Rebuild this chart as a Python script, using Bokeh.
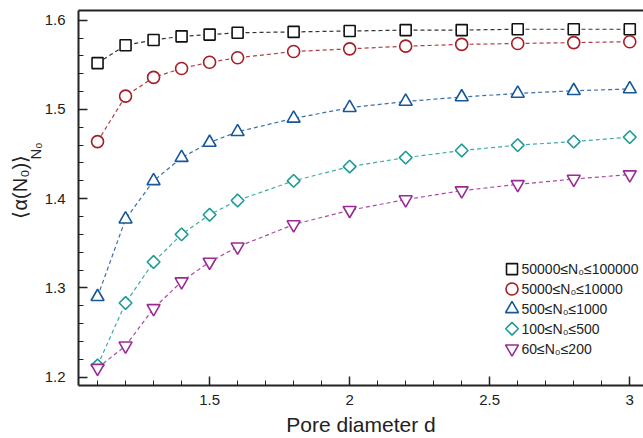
import math
from bokeh.plotting import figure
from bokeh.models import (Range1d, FixedTicker, LinearAxis, Title, ColumnDataSource)
from bokeh.core.properties import value
from bokeh.embed import file_html
from bokeh.resources import INLINE

# ---- data ----
d = [1.1, 1.2, 1.3, 1.4, 1.5, 1.6, 1.8, 2.0, 2.2, 2.4, 2.6, 2.8, 3.0]
alpha_50000_100000 = [1.552, 1.572, 1.578, 1.582, 1.584, 1.586, 1.587, 1.588, 1.589, 1.589, 1.590, 1.590, 1.590]
alpha_5000_10000 = [1.464, 1.515, 1.536, 1.546, 1.553, 1.558, 1.565, 1.568, 1.571, 1.573, 1.574, 1.575, 1.576]
alpha_500_1000 = [1.290, 1.377, 1.420, 1.446, 1.463, 1.475, 1.490, 1.502, 1.509, 1.514, 1.518, 1.521, 1.523]
alpha_100_500 = [1.213, 1.283, 1.329, 1.360, 1.382, 1.398, 1.420, 1.436, 1.446, 1.454, 1.460, 1.464, 1.469]
alpha_60_200 = [1.210, 1.235, 1.277, 1.307, 1.329, 1.346, 1.371, 1.387, 1.399, 1.409, 1.416, 1.422, 1.427]

series_labels = ["50000\u2264N\u2080\u2264100000", "5000\u2264N\u2080\u226410000",
                 "500\u2264N\u2080\u22641000", "100\u2264N\u2080\u2264500", "60\u2264N\u2080\u2264200"]
x_ticks = [1.5, 2.0, 2.5, 3.0]
x_tick_labels = {1.5: "1.5", 2.0: "2", 2.5: "2.5", 3.0: "3"}
y_ticks = [1.2, 1.3, 1.4, 1.5, 1.6]
y_tick_labels = {1.2: "1.2", 1.3: "1.3", 1.4: "1.4", 1.5: "1.5", 1.6: "1.6"}
x_title = "Pore diameter d"
y_title = "\u27e8\u03b1(N\u2080)\u27e9"
y_title_sub = "N\u2080"

series = [alpha_50000_100000, alpha_5000_10000, alpha_500_1000, alpha_100_500, alpha_60_200]
colors = ["#111111", "#a51c24", "#17579a", "#1f9c98", "#9a2b94"]
markers = ["square", "circle", "triangle", "square", "inverted_triangle"]
angles = [0, 0, 0, math.pi / 4, 0]
sizes = [11, 12, 13, 9, 13]

FONT = "Liberation Sans"
INK = "#222222"

X0, X1 = 1.032, 3.049
Y0, Y1 = 1.1905, 1.611
FRAME_L, FRAME_T, FRAME_W, FRAME_H = 78, 10, 565, 377

p = figure(width=643, height=438, output_backend="svg", toolbar_location=None,
           x_range=Range1d(X0, X1), y_range=Range1d(Y0, Y1),
           min_border_left=FRAME_L, min_border_right=0, min_border_top=FRAME_T, min_border_bottom=51)
p.outline_line_color = None
p.grid.visible = False

for ax in [p.xaxis[0], p.yaxis[0]]:
    ax.axis_line_width = 2
    ax.axis_line_color = INK
    ax.major_tick_in = 9
    ax.major_tick_out = 0
    ax.minor_tick_in = 5
    ax.minor_tick_out = 0
    ax.major_tick_line_width = 1.5
    ax.major_tick_line_color = INK
    ax.minor_tick_line_color = INK
    ax.minor_tick_line_width = 1
    ax.major_label_text_font = FONT
    ax.major_label_text_font_size = "15px"
    ax.major_label_text_color = INK

minor_x = [round(1.0 + 0.1 * i, 2) for i in range(0, 21)]
minor_x = [v for v in minor_x if v not in x_ticks]
p.xaxis[0].ticker = FixedTicker(ticks=x_ticks, minor_ticks=minor_x)
p.xaxis[0].major_label_overrides = x_tick_labels
p.xaxis[0].major_label_standoff = 9
p.xaxis[0].axis_label = x_title
p.xaxis[0].axis_label_text_font = FONT
p.xaxis[0].axis_label_text_font_size = "21px"
p.xaxis[0].axis_label_text_font_style = "normal"
p.xaxis[0].axis_label_text_color = INK
p.xaxis[0].axis_label_standoff = 5

minor_y = [round(1.2 + 0.02 * i, 2) for i in range(0, 21)]
minor_y = [v for v in minor_y if v not in y_ticks]
p.yaxis[0].ticker = FixedTicker(ticks=y_ticks, minor_ticks=minor_y)
p.yaxis[0].major_label_overrides = y_tick_labels
p.yaxis[0].major_label_standoff = 13

# top border as an axis line with no ticks
top = LinearAxis(ticker=FixedTicker(ticks=[]), major_tick_line_color=None,
                 minor_tick_line_color=None, axis_line_width=2, axis_line_color=INK,
                 major_label_standoff=0)
p.add_layout(top, "above")

# y title (with subscript) as rotated titles in the left panel
sub = Title(text=y_title_sub, align="left", offset=226, standoff=-4,
            text_font=FONT, text_font_size="15px", text_font_style="normal", text_color=INK)
p.add_layout(sub, "left")
main = Title(text=y_title, align="left", offset=167, standoff=-8,
             text_font=FONT, text_font_size="20px", text_font_style="normal", text_color=INK)
p.add_layout(main, "left")

for ys, c, m, a, s in zip(series, colors, markers, angles, sizes):
    p.line(d, ys, line_color=c, line_width=1.2, line_dash="4 3", line_alpha=0.85)
    p.scatter(d, ys, marker=m, angle=a, size=s, fill_color="white", line_color=c, line_width=1.6)

# legend (drawn inside the frame, positioned in pixels converted through the ranges)
def px_to_x(px):
    return X0 + (px - FRAME_L) * (X1 - X0) / FRAME_W

def py_to_y(py):
    return Y1 - (py - FRAME_T) * (Y1 - Y0) / FRAME_H

row_py = [270 + 20 * i for i in range(len(series_labels))]
leg = ColumnDataSource(dict(
    mx=[px_to_x(511.5)] * len(series_labels),
    tx=[px_to_x(521)] * len(series_labels),
    y=[py_to_y(v) for v in row_py],
    label=series_labels, color=colors, marker=markers, angle=angles, size=sizes))
p.scatter("mx", "y", marker="marker", angle="angle", size="size", fill_color="white",
          line_color="color", line_width=1.6, source=leg)
p.text("tx", "y", text="label", source=leg, text_font=value(FONT), text_font_size=value("14px"),
       text_color=INK, text_baseline="middle", text_align="left")

open("out.html", "w").write(file_html(p, INLINE))
